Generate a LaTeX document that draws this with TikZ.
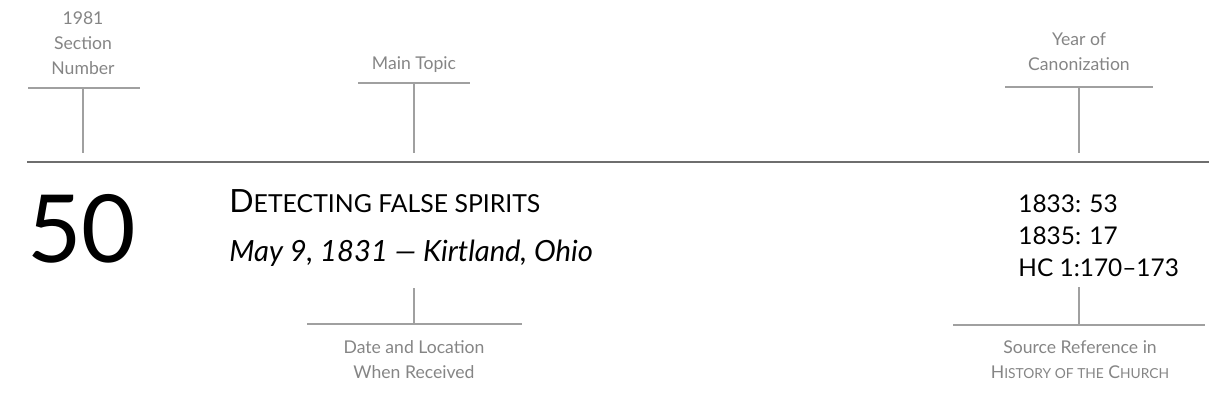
\documentclass[tikz,border=0pt]{standalone}
\usepackage{fontspec}
\setmainfont{Lato}
\usepackage{xcolor}
\usepackage{tikz}
\usetikzlibrary{positioning}

\definecolor{labelgray}{HTML}{858585}
\definecolor{bargray}{HTML}{A0A0A0}
\definecolor{rulegray}{HTML}{6E6E6E}
\newcommand{\lowcaps}[1]{{\fontsize{12.4}{14}\selectfont #1}}
\newcommand{\lblcaps}[1]{{\fontsize{6.9}{12.5}\selectfont #1}}

\begin{document}
\begin{tikzpicture}[
  x=0.5pt, y=-0.5pt,
  lbl/.style={align=center, text=labelgray, inner sep=0pt, font=\fontsize{8.8}{12.5}\selectfont},
  bar/.style={draw=bargray, line width=1pt},
  tick/.style={draw=bargray, line width=1pt},
  rule/.style={draw=rulegray, line width=1.1pt}
]
\useasboundingbox (0,0) rectangle (1229,411);

% main rule
\coordinate (rule-l) at (27,162);
\coordinate (rule-r) at (1209,162);
\draw[rule] (rule-l) -- (rule-r);

% section number
\node[lbl] (sec-lbl) at (83,43) {1981\\Section\\Number};
\coordinate (sec-bar) at (83,88);
\coordinate (sec-end) at (83,153);
\draw[bar] ([xshift=-27.5pt]sec-bar) -- ([xshift=28.5pt]sec-bar);
\draw[tick] (sec-bar) -- (sec-end);
\node[anchor=base west, inner sep=0pt, font=\fontsize{47}{47}\selectfont] (sec-num) at (27,262) {50};

% main topic
\node[lbl] (top-lbl) at (414,65) {Main Topic};
\coordinate (top-bar) at (414,83);
\coordinate (top-end) at (414,153);
\draw[bar] ([xshift=-28pt]top-bar) -- ([xshift=28pt]top-bar);
\draw[tick] (top-bar) -- (top-end);
\node[anchor=base west, inner sep=0pt, font=\fontsize{16}{16}\selectfont] (top-txt) at (229,213)
  {D\lowcaps{ETECTING FALSE SPIRITS}};

% date and location
\node[inner sep=0pt, font=\fontsize{14.6}{14.6}\selectfont\itshape, below=13pt of top-txt.south west, anchor=north west] (date-txt)
  {May 9, 1831 --- Kirtland, Ohio};
\coordinate (date-start) at (414,288);
\coordinate (date-bar) at (414,324);
\draw[tick] (date-start) -- (date-bar);
\draw[bar] ([xshift=-53.5pt]date-bar) -- ([xshift=54pt]date-bar);
\node[lbl] (date-lbl) at (414,360) {Date and Location\\When Received};

% year of canonization
\node[lbl] (can-lbl) at (1079,52) {Year of\\Canonization};
\coordinate (can-bar) at (1079,87);
\coordinate (can-end) at (1079,153);
\draw[bar] ([xshift=-37pt]can-bar) -- ([xshift=37pt]can-bar);
\draw[tick] (can-bar) -- (can-end);
\node[anchor=north west, inner sep=0pt, align=left, font=\fontsize{12.2}{16}\selectfont] (can-txt) at (1018,194)
  {1833: 53\\1835: 17\\HC 1:170--173};

% source reference
\coordinate (src-start) at (1079,287);
\coordinate (src-bar) at (1079,325);
\draw[tick] (src-start) -- (src-bar);
\draw[bar] ([xshift=-63pt]src-bar) -- ([xshift=63pt]src-bar);
\node[lbl] (src-lbl) at (1080,360) {Source Reference in\\H\lblcaps{ISTORY OF THE} C\lblcaps{HURCH}};
\end{tikzpicture}
\end{document}
